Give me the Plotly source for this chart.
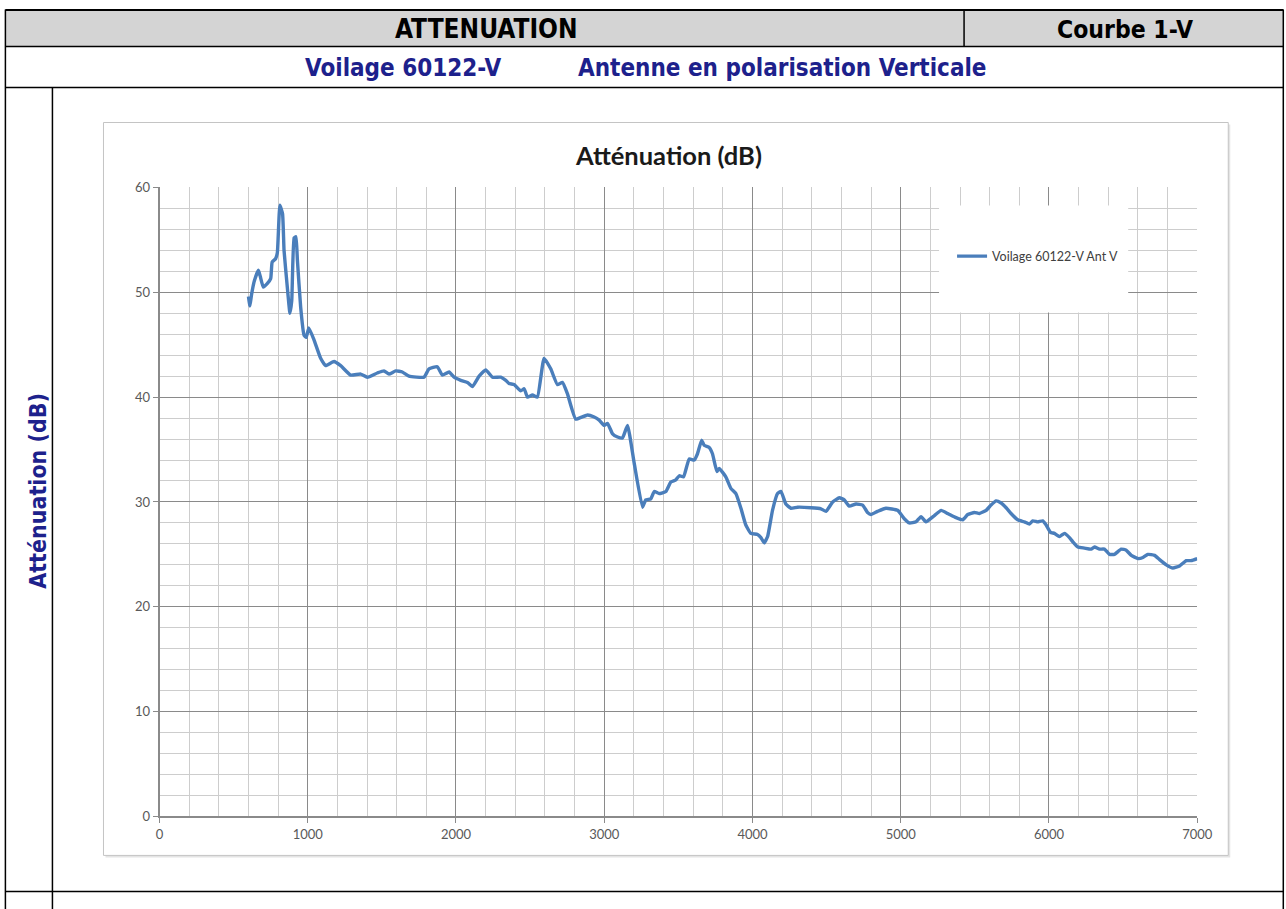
import plotly.graph_objects as go

# ---------------- data ----------------
freq = [600, 610, 620, 640, 667, 680, 700, 725, 750, 760, 783, 795, 812, 830, 840,
        862, 880, 892, 908, 920, 930, 952, 975, 990, 1007, 1041, 1087, 1121, 1177, 1222,
        1289, 1357, 1402, 1469, 1514, 1548, 1593, 1638, 1683, 1784, 1818, 1874, 1908, 1953, 1987,
        2032, 2077, 2111, 2156, 2201, 2246, 2302, 2336, 2358, 2392, 2437, 2460, 2482, 2516, 2549,
        2594, 2639, 2684, 2718, 2752, 2808, 2887, 2932, 2966, 3000, 3022, 3056, 3090, 3123, 3157,
        3202, 3258, 3280, 3314, 3337, 3370, 3416, 3449, 3483, 3506, 3535, 3573, 3607, 3629, 3657,
        3674, 3708, 3730, 3760, 3775, 3820, 3854, 3888, 3922, 3955, 3989, 4034, 4057, 4079, 4102,
        4135, 4169, 4192, 4225, 4259, 4304, 4394, 4462, 4496, 4541, 4586, 4619, 4653, 4698, 4743,
        4776, 4799, 4844, 4900, 4979, 5024, 5058, 5103, 5137, 5170, 5227, 5272, 5317, 5373, 5418,
        5452, 5497, 5531, 5576, 5609, 5643, 5677, 5711, 5744, 5789, 5834, 5868, 5891, 5924, 5958,
        5981, 6010, 6037, 6071, 6105, 6138, 6161, 6195, 6239, 6284, 6307, 6341, 6374, 6408, 6442,
        6487, 6521, 6555, 6600, 6634, 6667, 6712, 6746, 6791, 6836, 6881, 6926, 6959, 7000]
atten = [49.6, 48.7, 49.7, 51.1, 52.1, 51.5, 50.5, 50.8, 51.3, 52.9, 53.2, 53.8, 58.3, 57.5, 54.0,
         50.5, 48.0, 49.2, 55.2, 55.3, 53.1, 48.6, 45.9, 45.7, 46.6, 45.5, 43.7, 43.0, 43.4, 43.0,
         42.1, 42.2, 41.9, 42.3, 42.5, 42.2, 42.5, 42.4, 42.0, 41.9, 42.7, 42.9, 42.1, 42.4, 41.9,
         41.6, 41.4, 41.0, 42.0, 42.6, 41.9, 41.9, 41.6, 41.3, 41.2, 40.6, 40.8, 40.0, 40.2, 40.0,
         43.7, 42.7, 41.2, 41.4, 40.3, 37.9, 38.3, 38.1, 37.8, 37.3, 37.5, 36.5, 36.2, 36.1, 37.3,
         33.7, 29.5, 30.2, 30.3, 31.0, 30.8, 31.0, 31.9, 32.1, 32.5, 32.4, 34.1, 34.0, 34.6, 35.9,
         35.4, 35.2, 34.6, 32.9, 33.2, 32.4, 31.3, 30.8, 29.4, 27.8, 27.0, 26.9, 26.6, 26.1, 26.7,
         29.2, 30.8, 31.0, 29.8, 29.4, 29.5, 29.45, 29.35, 29.1, 30.0, 30.4, 30.2, 29.6, 29.8, 29.7,
         29.0, 28.8, 29.1, 29.4, 29.2, 28.4, 28.0, 28.1, 28.6, 28.1, 28.7, 29.2, 28.9, 28.5, 28.3,
         28.8, 29.0, 28.9, 29.2, 29.7, 30.1, 29.9, 29.45, 28.9, 28.3, 28.1, 27.9, 28.2, 28.1, 28.2,
         27.8, 27.1, 27.0, 26.7, 27.0, 26.6, 26.2, 25.7, 25.6, 25.5, 25.7, 25.5, 25.5, 25.0, 25.0,
         25.5, 25.4, 24.9, 24.6, 24.7, 25.0, 24.9, 24.5, 24.0, 23.7, 23.9, 24.4, 24.4, 24.6]
series_name = "Voilage 60122-V Ant V"
x_ticks = [0, 1000, 2000, 3000, 4000, 5000, 6000, 7000]
y_ticks = [0, 10, 20, 30, 40, 50, 60]

header_left = "ATTENUATION"
header_right = "Courbe 1-V"
sub_left = "Voilage 60122-V"
sub_right = "Antenne en polarisation Verticale"
chart_title = "Atténuation (dB)"
side_label = "Atténuation (dB)"

# ---------------- page geometry helpers ----------------
# figure fills the window (body margin removed by post_script); the helpers map
# target-picture pixel positions to paper fractions, with a small calibration.
W, H = 1306, 909
AX, SX = 3.6, 0.984
AY, SY = 7.5, 0.9825


def px(x):
    return ((x - AX) / SX) / W


def py(y):
    return 1 - ((y - AY) / SY) / H


NAVY = "#1d218c"
NARROW = "Liberation Sans Narrow, Arial Narrow, DejaVu Sans Condensed, sans-serif"
CAL = "Lato, Open Sans, sans-serif"

fig = go.Figure()
fig.add_trace(go.Scatter(
    x=freq, y=atten, mode="lines", name=series_name,
    line=dict(color="#4a7ebb", width=3.4, shape="spline", smoothing=0.4),
    showlegend=True,
))

shapes = []


def line(x0, y0, x1, y1, color="#000000", width=1.5, layer="above"):
    shapes.append(dict(type="line", xref="paper", yref="paper",
                       x0=px(x0), y0=py(y0), x1=px(x1), y1=py(y1),
                       line=dict(color=color, width=width), layer=layer))


def rect(x0, y0, x1, y1, fill=None, color="#000000", width=1.5, layer="below"):
    shapes.append(dict(type="rect", xref="paper", yref="paper",
                       x0=px(x0), y0=py(y1), x1=px(x1), y1=py(y0),
                       fillcolor=fill if fill else "rgba(0,0,0,0)",
                       line=dict(color=color, width=width), layer=layer))


LEFT, RIGHT, BOTTOM = 5, 1282, 909
# table header (gray)
rect(LEFT, 9, RIGHT, 46, fill="#d4d4d4", width=0)
# chart frame + light shadow
rect(105, 124, 1229, 857, fill="#e4e4e4", width=0)
rect(103, 122, 1227, 855, fill="#ffffff", color="#c4c4c4", width=1)
# table lines
line(LEFT, 9.5, RIGHT, 9.5, width=2)
line(LEFT, 46, RIGHT, 46, width=1.5)
line(LEFT, 87, RIGHT, 87, width=1.5)
line(LEFT, 891, RIGHT, 891, width=1.5)
line(LEFT, 9, LEFT, BOTTOM, width=1.5)
line(RIGHT, 9, RIGHT, BOTTOM, width=1.5)
line(963, 9, 963, 46, width=1.5)
line(52, 87, 52, BOTTOM, width=1.5)
# legend white box
rect(938, 205, 1127, 312, fill="#ffffff", width=0, layer="above")

annotations = [
    dict(text=f"<b>{header_left}</b>", x=px(486), y=py(29), xref="paper", yref="paper",
         showarrow=False, font=dict(family=NARROW, size=26, color="#000000"),
         xanchor="center", yanchor="middle"),
    dict(text=f"<b>{header_right}</b>", x=px(1124), y=py(29), xref="paper", yref="paper",
         showarrow=False, font=dict(family=NARROW, size=24.5, color="#000000"),
         xanchor="center", yanchor="middle"),
    dict(text=f"<b>{sub_left}</b>", x=px(403), y=py(68), xref="paper", yref="paper",
         showarrow=False, font=dict(family=NARROW, size=24, color=NAVY),
         xanchor="center", yanchor="middle"),
    dict(text=f"<b>{sub_right}</b>", x=px(782), y=py(68), xref="paper", yref="paper",
         showarrow=False, font=dict(family=NARROW, size=24, color=NAVY),
         xanchor="center", yanchor="middle"),
    dict(text=f"<b>{side_label}</b>", x=px(38), y=py(490), xref="paper", yref="paper",
         showarrow=False, textangle=-90, font=dict(family=NARROW, size=23, color=NAVY),
         xanchor="center", yanchor="middle"),
    dict(text=f"<b>{chart_title}</b>", x=px(668), y=py(155), xref="paper", yref="paper",
         showarrow=False, font=dict(family=CAL, size=25.5, color="#1a1a1a"),
         xanchor="center", yanchor="middle"),
]

axis_common = dict(
    showgrid=True, gridcolor="#8a8a8a", gridwidth=1,
    zeroline=False, showline=True, linecolor="#8a8a8a", linewidth=1.5,
    ticks="outside", ticklen=5, tickcolor="#8a8a8a",
    tickfont=dict(family=CAL, size=13, color="#595959"),
)

fig.update_layout(
    width=W, height=H, autosize=False,
    margin=dict(l=0, r=0, t=0, b=0),
    paper_bgcolor="#ffffff", plot_bgcolor="rgba(0,0,0,0)",
    shapes=shapes, annotations=annotations,
    xaxis=dict(domain=[px(159), px(1196)], range=[0, 7000], tickvals=x_ticks,
               minor=dict(dtick=200, tick0=0, showgrid=True, gridcolor="#cdcdcd", gridwidth=1),
               **axis_common),
    yaxis=dict(domain=[py(816), py(187)], range=[0, 60], tickvals=y_ticks,
               minor=dict(dtick=2, tick0=0, showgrid=True, gridcolor="#cdcdcd", gridwidth=1),
               **axis_common),
    showlegend=True,
    legend=dict(x=px(951), y=py(256), xanchor="left", yanchor="middle",
                bgcolor="rgba(0,0,0,0)", borderwidth=0,
                font=dict(family=CAL, size=12.5, color="#404040")),
)

fig.write_html("out.html", config={"displayModeBar": False},
               post_script="document.body.style.margin='0';"
                           "document.documentElement.style.overflow='hidden';")
